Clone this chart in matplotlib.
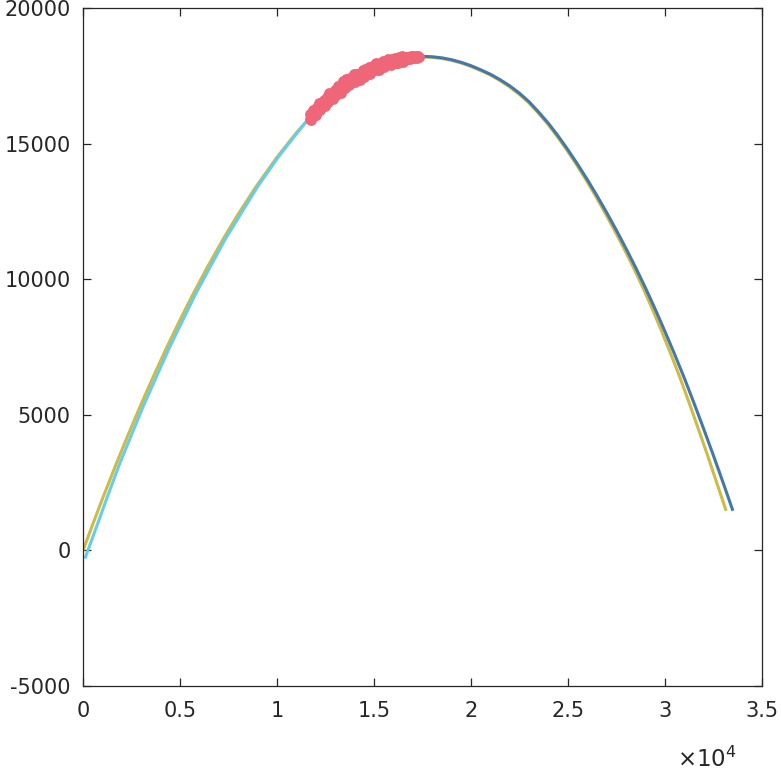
import numpy as np
import matplotlib
matplotlib.use("Agg")
import matplotlib.pyplot as plt

# colours (Paul Tol bright)
c_yellow = '#CCBB44'
c_cyan = '#66CCEE'
c_blue = '#4477AA'
c_red = '#EE6677'

# full trajectory (yellow)
yellow_x = [0, 500, 1000, 1700, 2300, 2940, 3600, 4280, 5000, 5670, 6400, 7220, 8000,
            8920, 10000, 10980, 11960, 12730, 13505, 14279, 15051, 15825, 16598, 17100,
            17629, 17985, 18485, 18980, 19475, 19970, 20465, 20960, 21455, 21950, 22445,
            22955, 23450, 23945, 24440, 24935, 25430, 25925, 26420, 26910, 27400, 27895,
            28385, 28875, 29355, 29835, 30310, 30785, 31255, 31725, 32200, 32670, 33150]
yellow_y = [0, 962, 1900, 3170, 4220, 5300, 6370, 7430, 8500, 9450, 10430, 11473, 12400,
            13416, 14500, 15383, 16180, 16700, 17140, 17510, 17800, 18010, 18145, 18190,
            18195, 18180, 18140, 18070, 17975, 17850, 17700, 17540, 17340, 17110, 16840,
            16525, 16140, 15730, 15265, 14765, 14230, 13665, 13070, 12445, 11795, 11115,
            10410, 9665, 8885, 8065, 7220, 6345, 5420, 4465, 3490, 2485, 1460]

# ascending part (cyan)
cyan_x = [100, 742, 1216, 1875, 3095, 4424, 5800, 7328, 9002, 10062, 11021, 11620]
cyan_y = [-300, 962, 1900, 3170, 5300, 7430, 9450, 11473, 13416, 14500, 15383, 15900]

# descending part (blue)
blue_x = [17300, 17650, 18000, 18500, 19000, 19500, 20000, 20500, 21000, 21500, 22000,
          22500, 23000, 23500, 24000, 24500, 25000, 25500, 26000, 26500, 27000, 27500,
          28000, 28500, 29000, 29500, 30000, 30500, 31000, 31500, 32000, 32500, 33000,
          33500]
blue_y = [18180, 18210, 18201, 18160, 18091, 17995, 17871, 17720, 17556, 17355, 17126,
          16855, 16536, 16150, 15736, 15270, 14766, 14230, 13666, 13070, 12446, 11795,
          11116, 10410, 9666, 8885, 8066, 7222, 6346, 5420, 4466, 3490, 2486, 1461]

# measurements (red)
red_x = [11680, 11720, 11760, 11800, 11850, 11900, 11950, 12000, 12060, 12110, 12170,
         12230, 12290, 12350, 12400, 12460, 12520, 12580, 12640, 12700, 12760, 12820,
         12880, 12940, 13000, 13060, 13120, 13180, 13240, 13300, 13360, 13420, 13480,
         13540, 13600, 13660, 13720, 13780, 13840, 13900, 13960, 14020, 14080, 14140,
         14200, 14260, 14320, 14380, 14440, 14500, 14560, 14620, 14680, 14740, 14800,
         14860, 14920, 14980, 15040, 15100, 15160, 15220, 15280, 15340, 15400, 15460,
         15520, 15580, 15640, 15700, 15760, 15820, 15880, 15940, 16000, 16060, 16120,
         16180, 16240, 16300, 16360, 16420, 16480, 16540, 16600, 16660, 16720, 16780,
         16840, 16900, 16960, 17020, 17080, 17140, 17200, 17260, 17300]
red_y = [15912, 16094, 15887, 16069, 16240, 16030, 16231, 16047, 16338, 16261, 16492,
         16242, 16443, 16373, 16607, 16368, 16568, 16699, 16549, 16860, 16667, 16821,
         16645, 16849, 16973, 16777, 17122, 16926, 17070, 16854, 17208, 17322, 17066,
         17367, 17225, 17394, 17153, 17431, 17260, 17449, 17547, 17276, 17555, 17424,
         17582, 17361, 17585, 17478, 17701, 17473, 17766, 17578, 17681, 17823, 17576,
         17798, 17661, 17894, 17757, 17973, 17730, 17896, 17722, 17988, 17865, 18041,
         17817, 18003, 17880, 18116, 17942, 18098, 17900, 18130, 18001, 18171, 17972,
         18132, 17953, 18193, 18044, 18244, 18025, 18175, 18065, 18199, 18114, 18198,
         18112, 18216, 18150, 18225, 18139, 18213, 18167, 18211, 18182]

x_ticks = [0, 5000, 10000, 15000, 20000, 25000, 30000, 35000]
x_labels = ['0', '0.5', '1', '1.5', '2', '2.5', '3', '3.5']
y_ticks = [-5000, 0, 5000, 10000, 15000, 20000]
y_labels = ['-5000', '0', '5000', '10000', '15000', '20000']

plt.rcParams['font.family'] = ['DejaVu Sans']
fig = plt.figure(figsize=(7.81, 7.73), dpi=100)
ax = fig.add_axes([0.1063, 0.1125, 0.8694, 0.8772])

ax.plot(yellow_x, yellow_y, color=c_yellow, lw=2.2, solid_capstyle='butt',
        solid_joinstyle='round')
ax.plot(cyan_x, cyan_y, color=c_cyan, lw=2.2, solid_capstyle='butt',
        solid_joinstyle='round')
ax.plot(blue_x, blue_y, color=c_blue, lw=2.2, solid_capstyle='butt',
        solid_joinstyle='round')
ax.plot(red_x, red_y, 'o', color=c_red, ms=7.8, mew=0)

ax.set_xlim(0, 35000)
ax.set_ylim(-5000, 20000)
ax.set_xticks(x_ticks)
ax.set_xticklabels(x_labels)
ax.set_yticks(y_ticks)
ax.set_yticklabels(y_labels)

axcol = '#262626'
for s in ax.spines.values():
    s.set_color(axcol)
    s.set_linewidth(0.9)
ax.tick_params(direction='in', length=6, width=0.9, color=axcol, labelcolor=axcol,
               labelsize=15, top=True, right=True)
ax.tick_params(axis='x', pad=11)
ax.tick_params(axis='y', pad=9)

ax.text(0.962, -0.1195, r'$\times 10^{4}$', transform=ax.transAxes, ha='right',
        va='baseline', fontsize=16.5, color=axcol)

fig.savefig('out.png', dpi=100)
